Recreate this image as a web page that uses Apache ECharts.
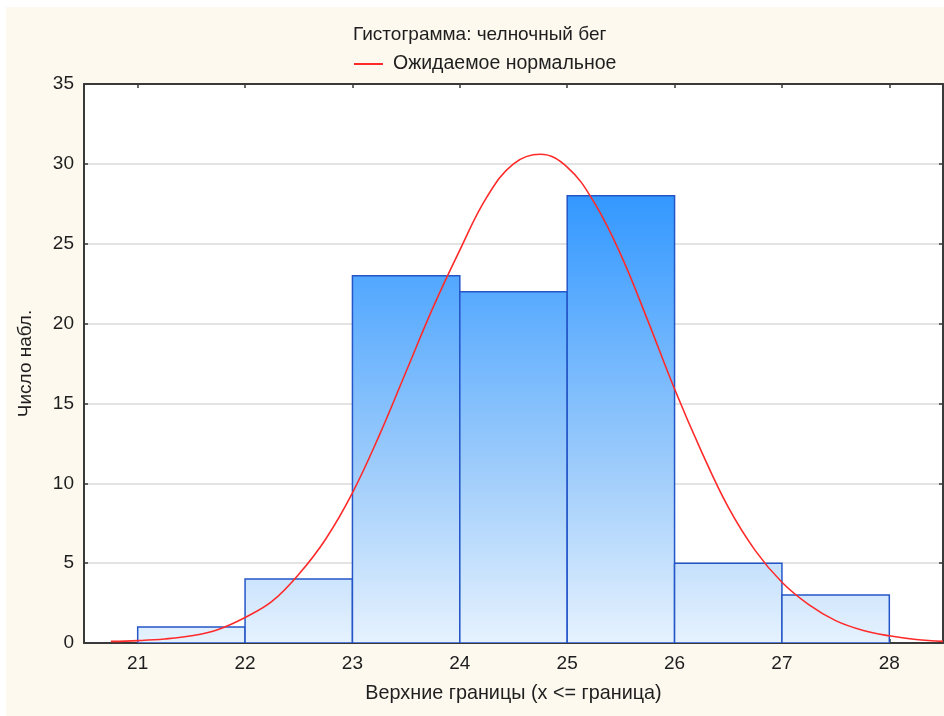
<!DOCTYPE html>
<html>
<head>
<meta charset="utf-8">
<script src="https://cdn.jsdelivr.net/npm/echarts@6/dist/echarts.min.js"></script>
<style>
html,body{margin:0;padding:0;background:#ffffff;}
#chart{width:944px;height:716px;}
</style>
</head>
<body>
<div id="chart"></div>
<script>
// ---- data ----
var titleText = 'Гистограмма: челночный бег';
var legendName = 'Ожидаемое нормальное';
var xAxisName = 'Верхние границы (x <= граница)';
var yAxisName = 'Число набл.';
var binLower = [21, 22, 23, 24, 25, 26, 27];
var binUpper = [22, 23, 24, 25, 26, 27, 28];
var counts = [1, 4, 23, 22, 28, 5, 3];
var xTickLabels = [21, 22, 23, 24, 25, 26, 27, 28];
var yTickLabels = [0, 5, 10, 15, 20, 25, 30, 35];
var curveX = [20.75, 21.0, 21.25, 21.5, 21.75, 22.0, 22.25, 22.5, 22.75, 23.0, 23.25, 23.5, 23.75, 24.0, 24.25, 24.5, 24.75, 25.0, 25.25, 25.5, 25.75, 26.0, 26.25, 26.5, 26.75, 27.0, 27.25, 27.5, 27.75, 28.0, 28.25, 28.5];
var curveY = [0.1, 0.15, 0.25, 0.45, 0.85, 1.6, 2.6, 4.3, 6.5, 9.4, 13.0, 17.0, 21.0, 24.6, 27.9, 30.0, 30.6, 29.8, 27.6, 24.3, 20.2, 15.9, 12.0, 8.5, 5.8, 3.8, 2.4, 1.4, 0.8, 0.45, 0.22, 0.1];

var barData = binLower.map(function (lo, i) { return [lo, binUpper[i], counts[i]]; });
var curveData = curveX.map(function (x, i) { return [x, curveY[i]]; });
var maxCount = Math.max.apply(null, counts);

var FONT = '"Liberation Sans", Arial, sans-serif';
var TXT = '#1e1e1e';
var AX = '#3a3a3a';

var chart = echarts.init(document.getElementById('chart'), null, {renderer: 'canvas'});
var xMin = 20.5, xMax = 28.5, yMin = 0, yMax = 35;

function xLabelFmt(v) { return xTickLabels.indexOf(v) >= 0 ? String(v) : ''; }

chart.setOption({
  animation: false,
  backgroundColor: '#ffffff',
  textStyle: {fontFamily: FONT},
  graphic: [{
    type: 'rect', z: -10, silent: true,
    shape: {x: 6, y: 7, width: 944, height: 716},
    style: {fill: '#fdf9ef'}
  }],
  title: {
    text: titleText, left: 348, top: 20,
    textStyle: {fontFamily: FONT, fontSize: 19, fontWeight: 'normal', color: TXT}
  },
  legend: {
    top: 49, left: 349,
    data: [{name: legendName, icon: 'rect'}],
    itemWidth: 29, itemHeight: 2, itemGap: 10,
    textStyle: {fontFamily: FONT, fontSize: 19.5, color: TXT, padding: [0, 0, 0, 5]}
  },
  grid: {left: 84, top: 84, width: 859, bottom: 73, containLabel: false, show: true, backgroundColor: '#ffffff', borderWidth: 0},
  xAxis: [{
    type: 'value', min: xMin, max: xMax, splitNumber: 8,
    position: 'bottom',
    name: xAxisName, nameLocation: 'middle', nameGap: 41,
    nameTextStyle: {fontFamily: FONT, fontSize: 19.8, color: TXT},
    axisLine: {show: true, onZero: false, lineStyle: {color: AX, width: 2}},
    axisTick: {show: true, inside: true, length: 4, lineStyle: {color: AX, width: 1.5}},
    axisLabel: {formatter: xLabelFmt, fontFamily: FONT, fontSize: 19, color: TXT, margin: 11, showMinLabel: false, showMaxLabel: false},
    splitLine: {show: false}
  }, {
    type: 'value', min: xMin, max: xMax, splitNumber: 8,
    position: 'top',
    axisLine: {show: true, onZero: false, lineStyle: {color: AX, width: 2}},
    axisTick: {show: true, inside: true, length: 4, lineStyle: {color: AX, width: 1.5}},
    axisLabel: {show: false},
    splitLine: {show: false}
  }],
  yAxis: [{
    type: 'value', min: yMin, max: yMax, interval: 5,
    name: yAxisName, nameLocation: 'middle', nameGap: 49,
    nameTextStyle: {fontFamily: FONT, fontSize: 19, color: TXT},
    axisLine: {show: true, onZero: false, lineStyle: {color: AX, width: 2}},
    axisTick: {show: true, inside: true, length: 4, lineStyle: {color: AX, width: 1.5}},
    axisLabel: {fontFamily: FONT, fontSize: 19, color: TXT, margin: 10,
      formatter: function (v) { return yTickLabels.indexOf(v) >= 0 ? String(v) : ''; }},
    splitLine: {show: true, lineStyle: {color: '#dadada', width: 1.5}}
  }, {
    type: 'value', min: yMin, max: yMax, interval: 5, position: 'right',
    axisLine: {show: true, onZero: false, lineStyle: {color: AX, width: 2}},
    axisTick: {show: true, inside: true, length: 4, lineStyle: {color: AX, width: 1.5}},
    axisLabel: {show: false},
    splitLine: {show: false}
  }],
  series: [{
    type: 'custom',
    name: 'hist',
    xAxisIndex: 0, yAxisIndex: 0,
    data: barData,
    clip: true,
    z: 2,
    encode: {x: [0, 1], y: 2},
    renderItem: function (params, api) {
      var lo = api.value(0), hi = api.value(1), c = api.value(2);
      var p0 = api.coord([lo, c]);
      var p1 = api.coord([hi, 0]);
      var topY = api.coord([lo, maxCount])[1];
      var botY = api.coord([lo, 0])[1];
      return {
        type: 'rect',
        shape: {x: p0[0], y: p0[1], width: p1[0] - p0[0], height: p1[1] - p0[1]},
        style: {
          fill: new echarts.graphic.LinearGradient(0, topY, 0, botY, [
            {offset: 0, color: '#3398ff'},
            {offset: 0.2, color: '#55a9ff'},
            {offset: 0.6, color: '#9ccbfb'},
            {offset: 1, color: '#e6f2fe'}
          ], true),
          stroke: '#2456c8',
          lineWidth: 1.5
        }
      };
    }
  }, {
    type: 'line',
    name: legendName,
    xAxisIndex: 0, yAxisIndex: 0,
    data: curveData,
    smooth: 0.4,
    showSymbol: false,
    clip: true,
    z: 5,
    itemStyle: {color: '#ff2b2b'},
    lineStyle: {color: '#ff2b2b', width: 1.6}
  }]
});
</script>
</body>
</html>
